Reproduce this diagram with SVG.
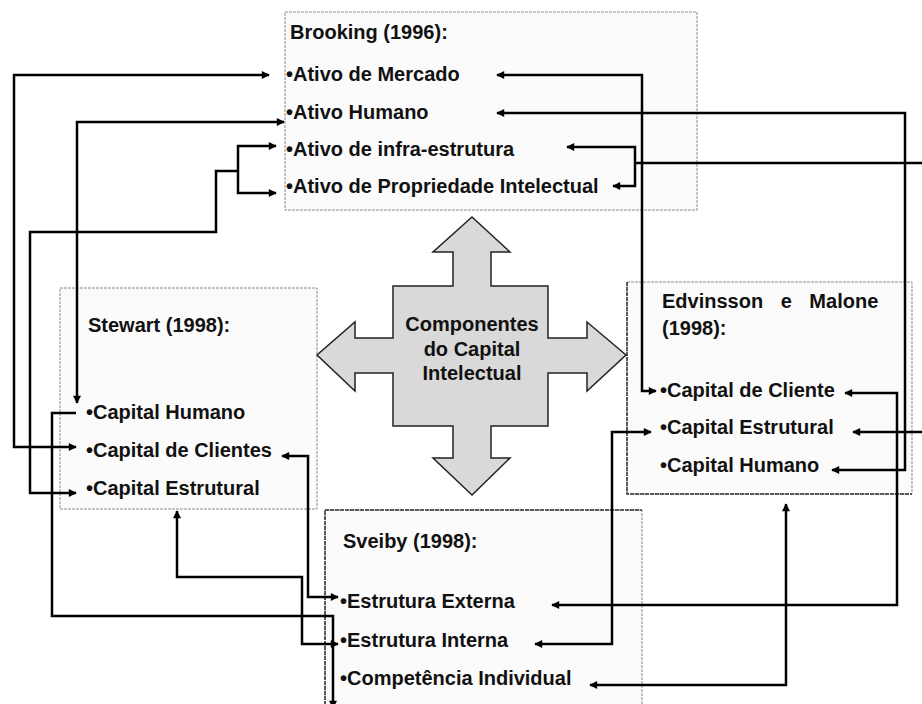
<svg xmlns="http://www.w3.org/2000/svg" width="922" height="704" viewBox="0 0 922 704">
<defs>
<style>
.box{fill:#fbfbfb;stroke:#8c8c8c;stroke-width:1;stroke-dasharray:3 1}
.dk{stroke:#333;stroke-width:1.5;fill:none}
.t{font-family:"Liberation Sans",Arial,sans-serif;font-weight:bold;font-size:20px;fill:#111}
.c{fill:none;stroke:#000;stroke-width:2.5;stroke-linejoin:miter}
.a1{marker-end:url(#ah)}
.a2{marker-start:url(#ah);marker-end:url(#ah)}
</style>
<marker id="ah" viewBox="0 0 10 10" refX="9" refY="5" markerWidth="10" markerHeight="8" markerUnits="userSpaceOnUse" orient="auto-start-reverse">
<path d="M0,0 L10,5 L0,10 z" fill="#000"/>
</marker>
</defs>
<rect width="922" height="704" fill="#fff"/>

<g id="brooking">
<rect class="box" x="285" y="12" width="412" height="198"/>
<text class="t" x="290" y="39">Brooking (1996):</text>
<text class="t" x="286" y="81">•Ativo de Mercado</text>
<text class="t" x="286" y="119">•Ativo Humano</text>
<text class="t" x="286" y="156">•Ativo de infra-estrutura</text>
<text class="t" x="286" y="193">•Ativo de Propriedade Intelectual</text>
</g>

<g id="stewart">
<rect class="box" x="60" y="288" width="257" height="221"/>
<text class="t" x="88" y="332">Stewart (1998):</text>
<text class="t" x="86" y="419">•Capital Humano</text>
<text class="t" x="86" y="457">•Capital de Clientes</text>
<text class="t" x="86" y="495">•Capital Estrutural</text>
</g>

<g id="edvinsson">
<rect class="box" x="627" y="282" width="285" height="212"/>
<path class="dk" d="M627,282 V494 H912" stroke-dasharray="4 1"/>
<text class="t" x="662" y="308" word-spacing="12">Edvinsson e Malone</text>
<text class="t" x="662" y="335">(1998):</text>
<text class="t" x="660" y="397">•Capital de Cliente</text>
<text class="t" x="660" y="434">•Capital Estrutural</text>
<text class="t" x="660" y="472">•Capital Humano</text>
</g>

<g id="sveiby">
<rect class="box" x="325" y="510" width="317" height="200"/>
<path class="dk" d="M325,710 V510 H642" stroke-dasharray="4 1"/>
<text class="t" x="343" y="548">Sveiby (1998):</text>
<text class="t" x="340" y="608">•Estrutura Externa</text>
<text class="t" x="340" y="647">•Estrutura Interna</text>
<text class="t" x="340" y="685">•Competência Individual</text>
</g>

<g id="centro">
<polygon points="472,217 510,252 491,252 491,286 548,286 548,338 587,338 587,322 626,355 587,391 587,373 548,373 548,426 491,426 491,458 510,458 472,495 433,458 453,458 453,426 393,426 393,373 355,373 355,391 317,355 355,322 355,338 393,338 393,286 453,286 453,252 433,252" fill="#d9d9d9" stroke="#222" stroke-width="1.5"/>
<text class="t" x="472" y="331" text-anchor="middle">Componentes</text>
<text class="t" x="472" y="356" text-anchor="middle">do Capital</text>
<text class="t" x="472" y="380" text-anchor="middle">Intelectual</text>
</g>

<g id="connectors">
<path class="c a2" d="M497,75 H642 V391 H656"/>
<path class="c a2" d="M497,113 H905 V470 H832"/>
<path class="c a2" d="M567,147 H635 V186 H613"/>
<path class="c" d="M635,163 H922"/>
<path class="c a1" d="M922,432 H853"/>
<path class="c a2" d="M269,75 H14 V447 H76"/>
<path class="c a2" d="M284,122 H77 V403"/>
<path class="c a2" d="M276,146 H238 V193 H276"/>
<path class="c a1" d="M238,171 H216 V232 H30 V493 H76"/>
<path class="c a1" d="M76,413 H52 V616 H333 V708"/>
<path class="c a2" d="M282,456 H308 V597 H338"/>
<path class="c a2" d="M177,511 V577 H302 V644 H338"/>
<path class="c a2" d="M651,432 H612 V644 H535"/>
<path class="c a2" d="M845,393 H897 V605 H552"/>
<path class="c a2" d="M786,504 V685 H590"/>
</g>
</svg>
